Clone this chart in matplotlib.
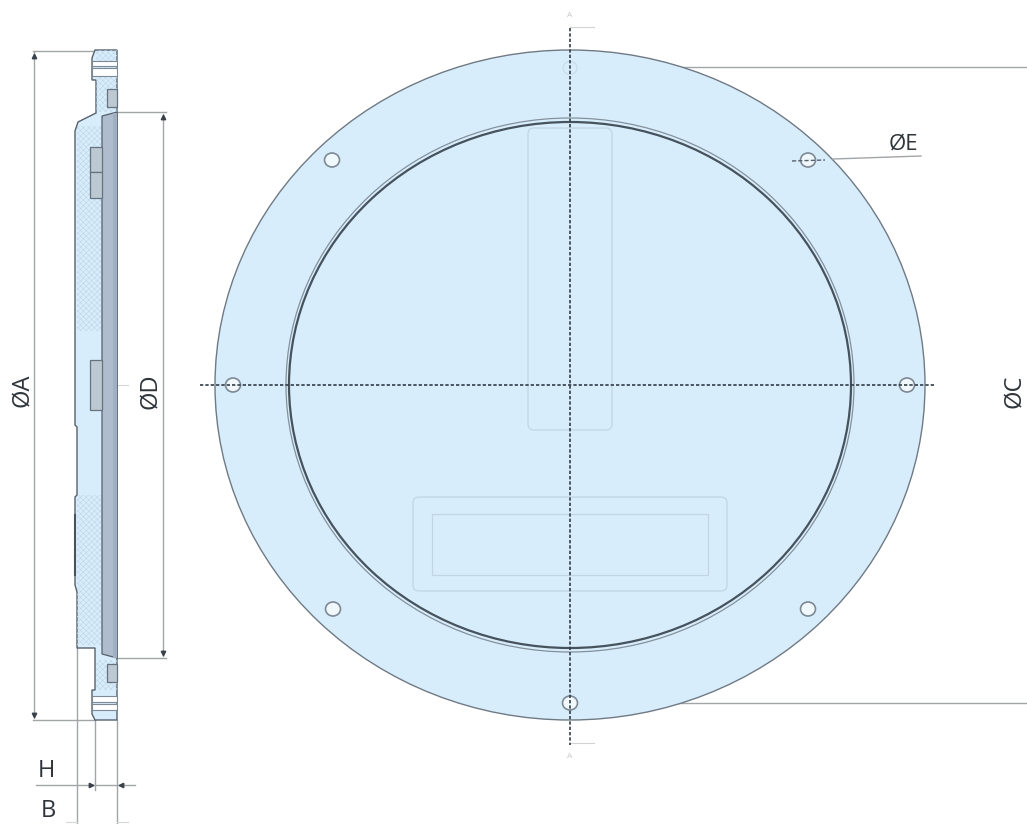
import matplotlib
matplotlib.use("Agg")
import matplotlib.pyplot as plt
from matplotlib.patches import Ellipse, FancyBboxPatch, Polygon, Rectangle

# ---- data (pixel units) ----
center = (570, 385)
outer_radii = (355, 335)
ring_radii = [(281, 263), (284, 267)]
holes_x = [332, 808, 233, 907, 333, 808, 570]
holes_y = [160, 160, 385, 385, 609, 609, 703]
plate_rects = [(528, 128, 84, 302), (413, 497, 314, 94)]
window_rect = (432, 514, 276, 61)

outline_x = [96, 117, 117, 95, 92, 92, 95, 95, 77, 77, 75, 75, 77, 77, 75, 75, 78, 96, 96, 92, 92, 95]
outline_y = [50, 50, 720, 720, 714, 690, 690, 648, 648, 592, 585, 497, 495, 427, 425, 131, 122, 113, 80, 80, 58, 50]
panel_x = [102, 117, 117, 102]
panel_y = [116, 112, 658, 654]
blocks = [(90, 147, 12, 25), (90, 172, 12, 26), (90, 360, 12, 50), (107, 89, 10, 18), (107, 664, 10, 18)]
teeth_bands = [(61, 5), (68, 8), (696, 6), (704, 6)]
hatch_bands = [(77, 126, 25, 205), (77, 495, 25, 150), (96, 50, 21, 62), (96, 660, 21, 30)]
dim_labels = ["ØA", "ØD", "H", "B", "ØC", "ØE", "A", "A"]

LINE = "#a2a5a8"
FILL = "#d8edfc"
DARK = "#55616c"

plt.rcParams["font.family"] = ["Open Sans", "DejaVu Sans"]
plt.rcParams["hatch.linewidth"] = 0.35
fig = plt.figure(figsize=(10.27, 8.24), dpi=100, facecolor="white")
ax = fig.add_axes([0, 0, 1, 1])
ax.set_xlim(0, 1027)
ax.set_ylim(824, 0)
ax.axis("off")

# ---- front view ----
ax.add_patch(Ellipse(center, 2 * outer_radii[0], 2 * outer_radii[1], fc=FILL, ec="#6f7a84", lw=1.0, zorder=1))
ax.add_patch(Ellipse(center, 2 * ring_radii[1][0], 2 * ring_radii[1][1], fc="none", ec="#83919c", lw=0.9, zorder=3))
ax.add_patch(Ellipse(center, 2 * ring_radii[0][0], 2 * ring_radii[0][1], fc="none", ec="#46525c", lw=1.6, zorder=3))
for x, y, w, h in plate_rects:
    ax.add_patch(FancyBboxPatch((x + 5, y + 5), w - 10, h - 10, boxstyle="round,pad=5,rounding_size=6",
                                fc="none", ec="#c2d5e3", lw=0.9, zorder=2))
ax.add_patch(Rectangle(window_rect[:2], window_rect[2], window_rect[3], fc="none", ec="#c2d5e3", lw=0.9, zorder=2))
for x, y in zip(holes_x, holes_y):
    ax.add_patch(Ellipse((x, y), 15, 14, fc="#f1f8fc", ec="#7d8994", lw=1.2, zorder=4))
ax.add_patch(Ellipse((570, 68), 14, 13, fc="none", ec="#c6d8e5", lw=0.7, zorder=2))

ax.plot([570, 570], [28, 745], color="#333e48", lw=1.2, ls=(0, (2, 1.2)), zorder=5)
ax.plot([200, 935], [385, 385], color="#333e48", lw=1.2, ls=(0, (2, 1.2)), zorder=5)
ax.plot([792, 825], [161, 160], color="#55616c", lw=1.0, ls=(0, (3, 1.5)), zorder=5)
ax.plot([833, 921], [159, 156], color=LINE, lw=1.0, zorder=5)
ax.plot([650, 1027], [67, 67], color=LINE, lw=1.0, zorder=0.5)
ax.plot([675, 1027], [703, 703], color=LINE, lw=1.0, zorder=0.5)
ax.plot([570, 594], [27, 27], color="#cfd3d6", lw=0.8)
ax.plot([570, 594], [743, 743], color="#cfd3d6", lw=0.8)

# ---- side section ----
ax.add_patch(Polygon(list(zip(outline_x, outline_y)), closed=True, fc=FILL, ec=DARK, lw=1.0, zorder=2))
for x, y, w, h in hatch_bands:
    ax.add_patch(Rectangle((x, y), w, h, fc="none", ec="#bcd4e4", lw=0, hatch="xxxxxx", zorder=2.1))
ax.add_patch(Polygon(list(zip(panel_x, panel_y)), closed=True, fc="#aebccd", ec=DARK, lw=0.9, zorder=3))
ax.add_patch(Rectangle((113, 113), 4, 545, fc="#a0afc2", ec="none", zorder=3.1))
for x, y, w, h in blocks:
    ax.add_patch(Rectangle((x, y), w, h, fc="#bcc8d2", ec="#66727d", lw=0.9, zorder=3))
for y, h in teeth_bands:
    ax.add_patch(Rectangle((92, y), 25, h, fc="white", ec="#7d8994", lw=0.8, zorder=3.2))
ax.plot([75, 75], [515, 575], color="#46525c", lw=1.5, zorder=4)

# ---- dimension lines ----
for xs, ys in [([34, 34], [52, 718]), ([33, 95], [51, 51]), ([33, 95], [720, 720]),
               ([163, 163], [114, 656]), ([117, 166], [112, 112]), ([117, 166], [658, 658]),
               ([77, 77], [648, 824]), ([95, 95], [720, 790]), ([117, 117], [720, 824]),
               ([36, 135], [785, 785])]:
    ax.plot(xs, ys, color=LINE, lw=1.0, zorder=1.5)
ax.plot([117, 128], [385, 385], color="#d5d7d9", lw=0.8, zorder=1.5)
ax.plot([66, 77], [822, 822], color="#d5d7d9", lw=0.8, zorder=1.5)
ax.plot([117, 128], [822, 822], color="#d5d7d9", lw=0.8, zorder=1.5)
for x, y, m in [(34, 56, "^"), (34, 715, "v"), (163, 117, "^"), (163, 653, "v"), (91, 785, ">"), (121, 785, "<")]:
    ax.plot([x], [y], marker=m, ms=3.2, color="#39424a", zorder=2)

# ---- labels ----
txt = "#2f353a"
ax.text(22, 390, dim_labels[0], rotation=90, fontsize=17, color=txt, ha="center", va="center")
ax.text(150, 391, dim_labels[1], rotation=90, fontsize=17, color=txt, ha="center", va="center")
ax.text(46, 771, dim_labels[2], fontsize=17, color=txt, ha="center", va="center")
ax.text(48, 811, dim_labels[3], fontsize=17, color=txt, ha="center", va="center")
ax.text(1014, 391, dim_labels[4], rotation=90, fontsize=17, color=txt, ha="center", va="center")
ax.text(903, 144, dim_labels[5], fontsize=16, color=txt, ha="center", va="center")
ax.text(570, 15, dim_labels[6], fontsize=6, color="#c4c9cd", ha="center", va="center")
ax.text(570, 757, dim_labels[7], fontsize=6, color="#c4c9cd", ha="center", va="center")

fig.savefig("out.png", dpi=100, facecolor="white")
